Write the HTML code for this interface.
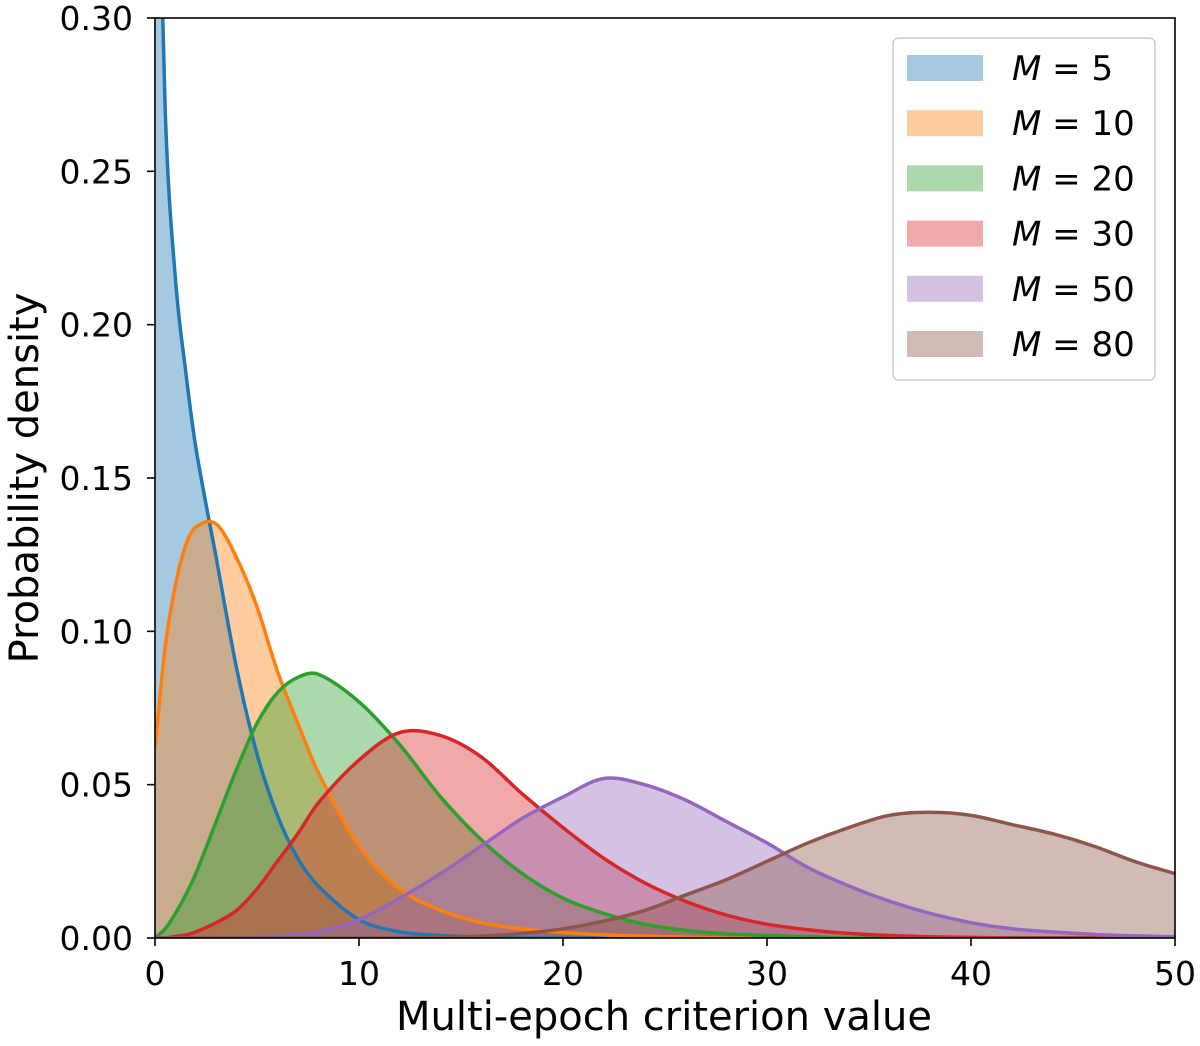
<!DOCTYPE html>
<html><head><meta charset="utf-8"><style>
body{margin:0;background:#fff}
svg{display:block;font-family:"DejaVu Sans","Liberation Sans",sans-serif}
</style></head><body>
<svg id="chart" width="1200" height="1046" viewBox="0 0 1200 1046">
<defs><clipPath id="plotclip"><rect x="155" y="18" width="1020" height="920"/></clipPath></defs>
<g id="fills" clip-path="url(#plotclip)"></g>
<g id="lines" clip-path="url(#plotclip)"></g>
<rect x="155" y="18" width="1020" height="920" fill="none" stroke="#000" stroke-width="1.6"/>
<g id="xticks"></g>
<g id="yticks"></g>
<text x="664" y="1030" font-size="40" text-anchor="middle">Multi-epoch criterion value</text>
<text x="0" y="0" font-size="40" text-anchor="middle" transform="translate(38,478) rotate(-90)">Probability density</text>
<g id="legend">
<rect x="893" y="38" width="262" height="342" rx="6" fill="#fff" fill-opacity="0.85" stroke="#ccc" stroke-width="1.5"/>
</g>
</svg>
<script>
const xs = [0,0.5,1,1.5,2,3,4,5,6,7,8,10,12,14,16,18,20,22,24,26,28,30,32,34,36,38,40,42,44,46,48,50];
const labels = ["5","10","20","30","50","80"];
const colors = ["#1f77b4","#ff7f0e","#2ca02c","#d62728","#9467bd","#8c564b"];
const m5  = [0.40,0.27,0.215,0.185,0.16,0.124,0.088,0.060,0.040,0.026,0.017,0.006,0.002,0.0008,0.0003,0,0,0,0,0,0,0,0,0,0,0,0,0,0,0,0,0];
const m10 = [0.062,0.095,0.115,0.128,0.134,0.135,0.124,0.108,0.087,0.070,0.054,0.030,0.016,0.009,0.005,0.003,0.0018,0.001,0.0006,0.0003,0,0,0,0,0,0,0,0,0,0,0,0];
const m20 = [0,0.003,0.008,0.014,0.021,0.038,0.055,0.070,0.080,0.085,0.086,0.077,0.063,0.046,0.032,0.021,0.013,0.008,0.0045,0.0025,0.0014,0.0008,0.0004,0,0,0,0,0,0,0,0,0];
const m30 = [0,0,0.0005,0.001,0.002,0.005,0.009,0.016,0.025,0.034,0.044,0.058,0.067,0.066,0.059,0.047,0.036,0.026,0.018,0.012,0.0075,0.0045,0.0027,0.0015,0.0008,0.0004,0.0002,0,0,0,0,0];
const m50 = [0,0,0,0,0,0,0,0.0003,0.0007,0.0012,0.002,0.006,0.013,0.021,0.030,0.039,0.046,0.052,0.050,0.045,0.038,0.031,0.023,0.017,0.012,0.008,0.005,0.003,0.002,0.0012,0.0007,0.0004];
const m80 = [0,0,0,0,0,0,0,0,0,0,0,0,0,0.0002,0.0006,0.0015,0.003,0.0055,0.009,0.014,0.019,0.025,0.031,0.036,0.040,0.041,0.040,0.037,0.034,0.030,0.025,0.021];
const series = [m5,m10,m20,m30,m50,m80];
const xTicks = [0,10,20,30,40,50];
const yTicks = [0,0.05,0.10,0.15,0.20,0.25,0.30];
const yTickLabels = ["0.00","0.05","0.10","0.15","0.20","0.25","0.30"];

const NS="http://www.w3.org/2000/svg";
const X0=155,X1=1175,Y0=938,Y1=18;
const sx=v=>X0+(v-0)/(50-0)*(X1-X0);
const sy=v=>Y0-(v-0)/(0.30-0)*(Y0-Y1);
function mk(t,a,p){const e=document.createElementNS(NS,t);for(const k in a)e.setAttribute(k,a[k]);p.appendChild(e);return e;}
function curvePath(ys){
  const pts=xs.map((x,i)=>[sx(x),sy(ys[i])]);
  const n=pts.length,m=[];
  for(let i=0;i<n;i++){
    const a=pts[Math.max(i-1,0)],b=pts[Math.min(i+1,n-1)];
    m.push((b[1]-a[1])/(b[0]-a[0]));
  }
  let d="M"+pts[0][0]+","+pts[0][1];
  for(let i=0;i<n-1;i++){
    const h=(pts[i+1][0]-pts[i][0])/3;
    const c1=Math.min(pts[i][1]+m[i]*h,Y0),c2=Math.min(pts[i+1][1]-m[i+1]*h,Y0);
    d+=` C${pts[i][0]+h},${c1} ${pts[i+1][0]-h},${c2} ${pts[i+1][0]},${pts[i+1][1]}`;
  }
  return d;
}
const fills=document.getElementById("fills"),lines=document.getElementById("lines");
series.forEach((ys,i)=>{
  const c=curvePath(ys);
  const f=mk("path",{d:c+` L${sx(50)},${Y0} L${sx(0)},${Y0} Z`,fill:colors[i],"fill-opacity":0.4},fills);
  
  
});
series.forEach((ys,i)=>{
  const l=mk("path",{d:curvePath(ys),fill:"none",stroke:colors[i],"stroke-width":3.5},lines);
  
  
});
const xg=document.getElementById("xticks");
xTicks.forEach(v=>{
  const t=mk("line",{x1:sx(v),x2:sx(v),y1:Y0,y2:Y0+8,stroke:"#000","stroke-width":1.6},xg);
  
  
  const tx=mk("text",{x:sx(v),y:Y0+47,"font-size":33,"text-anchor":"middle"},xg);tx.textContent=v;
  
  
});
const yg=document.getElementById("yticks");
yTicks.forEach((v,i)=>{
  const t=mk("line",{x1:X0-8,x2:X0,y1:sy(v),y2:sy(v),stroke:"#000","stroke-width":1.6},yg);
  
  
  const tx=mk("text",{x:X0-22,y:sy(v)+12,"font-size":33,"text-anchor":"end"},yg);tx.textContent=yTickLabels[i];
  
  
});
const lg=document.getElementById("legend");
labels.forEach((lab,i)=>{
  const y=68+i*55.2;
  const r=mk("rect",{x:907,y:y-13,width:76,height:26,fill:colors[i],"fill-opacity":0.4},lg);
  
  
  const t=mk("text",{x:1012,y:y+12,"font-size":34},lg);
  
  
  const ts=mk("tspan",{"font-style":"italic"},t);ts.textContent="M";
  const ts2=mk("tspan",{},t);ts2.textContent=" = "+lab;
});
</script>
</body></html>
